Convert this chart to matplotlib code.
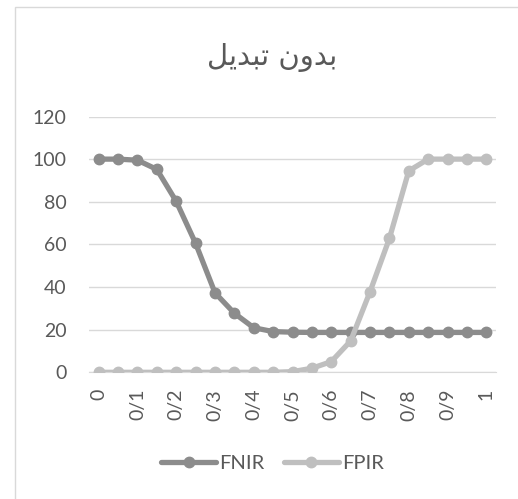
import matplotlib
matplotlib.use("Agg")
import matplotlib.pyplot as plt
from matplotlib.patches import Rectangle

# --- Data ---
thresholds = [i * 0.05 for i in range(21)]
fnir = [100, 100, 99.5, 95.2, 80.2, 60.5, 37.3, 27.7, 20.9, 19.1, 18.8,
        18.7, 18.7, 18.7, 18.7, 18.7, 18.7, 18.7, 18.7, 18.7, 18.7]
fpir = [0, 0, 0, 0, 0, 0, 0, 0, 0, 0, 0.3,
        1.9, 5.0, 14.7, 37.8, 62.8, 94.5, 100, 100, 100, 100]
tick_labels = ["0", "0/1", "0/2", "0/3", "0/4", "0/5", "0/6", "0/7", "0/8", "0/9", "1"]
y_ticks = [0, 20, 40, 60, 80, 100, 120]
# "بدون تبدیل" in shaped presentation forms, visual (LTR) order
title = "\uFEDE\uFEF3\uFEAA\uFE92\uFE97 \uFEE5\uFEED\uFEAA\uFE91"

TEXT = "#595959"
GRID = "#d9d9d9"

fig = plt.figure(figsize=(5.18, 4.99), dpi=100)
ax = fig.add_axes([89 / 518, 1 - 372.3 / 499, 407 / 518, 255.8 / 499])

# chart border (Excel chart area)
fig.add_artist(Rectangle((15 / 518, -0.1), 1.2, 1 - 7 / 499 + 0.1,
                         transform=fig.transFigure, fill=False,
                         edgecolor=GRID, linewidth=1))

idx = list(range(len(thresholds)))
ax.plot(idx, fnir, color="#8c8c8c", lw=3.8, marker="o", ms=7.5,
        label="FNIR", solid_capstyle="round", zorder=3)
ax.plot(idx, fpir, color="#bfbfbf", lw=3.8, marker="o", ms=7.5,
        label="FPIR", solid_capstyle="round", zorder=3)

ax.set_xlim(-0.5, len(idx) - 0.5)
ax.set_ylim(0, 120)
ax.set_yticks(y_ticks)
ax.set_xticks(idx[::2])
ax.set_xticklabels(tick_labels, rotation=90, fontfamily="Lato", fontsize=14, color=TEXT)
for lab in ax.get_yticklabels():
    lab.set_fontfamily("Lato")
    lab.set_fontsize(14)
    lab.set_color(TEXT)
ax.tick_params(axis="x", length=0, pad=12)
ax.tick_params(axis="y", length=0, pad=16)

ax.grid(axis="y", color=GRID, linewidth=1)
ax.set_axisbelow(True)
for s in ["top", "right", "left"]:
    ax.spines[s].set_visible(False)
ax.spines["bottom"].set_color(GRID)

fig.text(272 / 518, 1 - 57 / 499, title, ha="center", va="center",
         fontsize=21, color=TEXT, fontfamily="DejaVu Sans")

leg = fig.legend(loc="center", bbox_to_anchor=(272.5 / 518, 1 - 463 / 499),
                 ncol=2, frameon=False, fontsize=14.5, handlelength=2.7,
                 columnspacing=1.0, handletextpad=0.15)
for t in leg.get_texts():
    t.set_color(TEXT)
    t.set_fontfamily("Lato")

fig.savefig("out.png", dpi=100)
